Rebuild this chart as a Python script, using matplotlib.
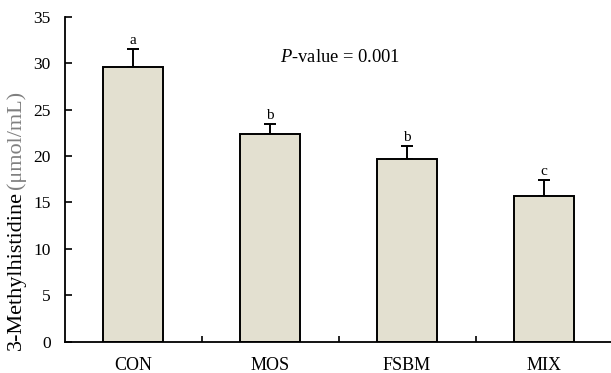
import numpy as np
import matplotlib
matplotlib.use('Agg')
import matplotlib.pyplot as plt

plt.rcParams['font.family'] = 'Liberation Serif'
plt.rcParams['mathtext.fontset'] = 'custom'
plt.rcParams['mathtext.it'] = 'Liberation Serif:italic'
plt.rcParams['mathtext.rm'] = 'Liberation Serif'

groups = ['CON', 'MOS', 'FSBM', 'MIX']
means = [29.6, 22.35, 19.7, 15.7]
errors = [1.9, 1.1, 1.35, 1.7]
letters = ['a', 'b', 'b', 'c']

fig = plt.figure(figsize=(6.11, 3.73), dpi=100)
ax = fig.add_axes([0.1056, 0.084, 0.897, 0.871])

x = np.arange(len(groups))
ax.bar(x, means, width=0.44, color='#e3e0d0', edgecolor='black', linewidth=1.4, zorder=2)
ax.errorbar(x, means, yerr=[np.zeros(len(errors)), errors], fmt='none',
            ecolor='black', elinewidth=1.4, capsize=4, capthick=1.4, zorder=1)

for xi, m, e, lab in zip(x, means, errors, letters):
    ax.text(xi, m + e + 0.25, lab, ha='center', va='bottom', fontsize=11)

ax.text(1.07, 30.6, r'$\it{P}$-value = 0.001', ha='left', va='center', fontsize=13.3)

ax.set_xlim(-0.5, 3.5)
ax.set_ylim(0, 35)
ax.set_yticks(np.arange(0, 36, 5))
ax.set_xticks(x)
ax.set_xticklabels(groups, fontsize=13)
ax.tick_params(axis='x', length=0, pad=11)
ax.tick_params(axis='y', direction='in', length=5, width=1.2, labelsize=12.5, pad=10)
ax.set_xticks(np.arange(0.5, 3.5, 1), minor=True)
ax.tick_params(axis='x', which='minor', direction='in', length=4, width=1.2)

for s in ['top', 'right']:
    ax.spines[s].set_visible(False)
for s in ['left', 'bottom']:
    ax.spines[s].set_linewidth(1.3)

# y label in two colours
t1 = fig.text(0.027, 0.062, '3-Methylhistidine', rotation=90, ha='center', va='bottom',
              fontsize=16, color='black')
fig.canvas.draw()
bb = t1.get_window_extent().transformed(fig.transFigure.inverted())
fig.text(0.027, bb.y1 + 0.006, '(μmol/mL)', rotation=90, ha='center', va='bottom',
         fontsize=16, color='#808080')

fig.savefig('out.png', dpi=100)
